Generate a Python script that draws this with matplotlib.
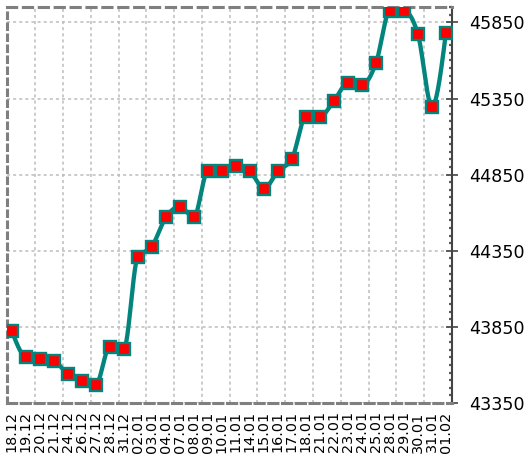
import numpy as np
import matplotlib
matplotlib.use("Agg")
import matplotlib.pyplot as plt
from matplotlib.ticker import MultipleLocator, FixedLocator

dates = ["18.12", "19.12", "20.12", "21.12", "24.12", "26.12", "27.12", "28.12",
         "31.12", "02.01", "03.01", "04.01", "07.01", "08.01", "09.01", "10.01",
         "11.01", "14.01", "15.01", "16.01", "17.01", "18.01", "21.01", "22.01",
         "23.01", "24.01", "25.01", "28.01", "29.01", "30.01", "31.01", "01.02"]
values = [43825, 43654, 43641, 43628, 43539, 43497, 43470, 43720,
          43705, 44311, 44377, 44570, 44640, 44570, 44872, 44872,
          44905, 44872, 44758, 44872, 44953, 45231, 45231, 45334,
          45452, 45439, 45582, 45926, 45926, 45772, 45297, 45783]
y_ticks = [43350, 43850, 44350, 44850, 45350, 45850]

LINE = "#03857d"
MARK = "#ff0000"


def monotone_curve(x, y, steps=24):
    """Monotone cubic (Fritsch-Carlson style) path through the points."""
    x = np.asarray(x, float)
    y = np.asarray(y, float)
    h = np.diff(x)
    s = np.diff(y) / h
    m = np.zeros_like(y)
    for i in range(1, len(y) - 1):
        s0, s1 = s[i - 1], s[i]
        p = (s0 * h[i] + s1 * h[i - 1]) / (h[i - 1] + h[i])
        m[i] = (np.sign(s0) + np.sign(s1)) * min(abs(s0), abs(s1), 0.5 * abs(p))
    m[0] = (3 * s[0] - m[1]) / 2
    m[-1] = (3 * s[-1] - m[-2]) / 2
    xs, ys = [], []
    for i in range(len(x) - 1):
        t = np.linspace(0, 1, steps, endpoint=False)
        h00 = 2 * t**3 - 3 * t**2 + 1
        h10 = t**3 - 2 * t**2 + t
        h01 = -2 * t**3 + 3 * t**2
        h11 = t**3 - t**2
        xs.append(x[i] + t * h[i])
        ys.append(h00 * y[i] + h10 * h[i] * m[i] + h01 * y[i + 1] + h11 * h[i] * m[i + 1])
    xs.append([x[-1]])
    ys.append([y[-1]])
    return np.concatenate(xs), np.concatenate(ys)


pos = np.arange(len(dates))

fig = plt.figure(figsize=(5.28, 4.59), dpi=100)
ax = fig.add_axes([0.014, 0.122, 0.842, 0.863])

cx, cy = monotone_curve(pos, values)
ax.plot(cx, cy, color=LINE, lw=3.1, solid_capstyle="round",
        solid_joinstyle="round", zorder=3)
ax.plot(pos, values, linestyle="none", marker="s", markersize=8.0,
        markerfacecolor=MARK, markeredgecolor=LINE, markeredgewidth=1.7, zorder=4)

xmin, xmax = -0.31, 31.43
ax.set_xlim(xmin, xmax)
ax.set_ylim(43350, 45952)

ax.set_xticks(pos)
ax.set_xticklabels(dates, rotation=90, fontsize=10.4, family="DejaVu Sans")
ax.xaxis.set_minor_locator(FixedLocator(np.linspace(xmin, xmax, 17)[1:-1]))
ax.tick_params(axis="x", which="both", length=0, pad=6)

ax.yaxis.tick_right()
ax.set_yticks(y_ticks)
ax.set_yticklabels([str(v) for v in y_ticks], fontsize=12.6, family="DejaVu Sans")
ax.yaxis.set_minor_locator(MultipleLocator(50))
ax.tick_params(axis="y", which="major", direction="inout", length=8, width=1.2,
               color="#444444", pad=8)
ax.tick_params(axis="y", which="minor", direction="in", length=2.5, width=1.6,
               color="#5a5a5a")

grid_style = dict(color="#bdbdbd", linewidth=1.1, linestyle=(0, (2, 2)))
ax.grid(True, axis="y", which="major", **grid_style)
ax.grid(True, axis="x", which="minor", **grid_style)
ax.grid(False, axis="x", which="major")
ax.set_axisbelow(True)

for side in ("left", "top", "bottom"):
    sp = ax.spines[side]
    sp.set_color("#7f7f7f")
    sp.set_linewidth(2.2)
ax.spines["left"].set_linestyle((0, (1.8, 1.8)))
ax.spines["top"].set_linestyle((0, (3.0, 2.2)))
ax.spines["bottom"].set_linestyle((0, (3.0, 1.5)))
ax.spines["right"].set_color("#444444")
ax.spines["right"].set_linewidth(1.5)

fig.savefig("out.png", dpi=100)
